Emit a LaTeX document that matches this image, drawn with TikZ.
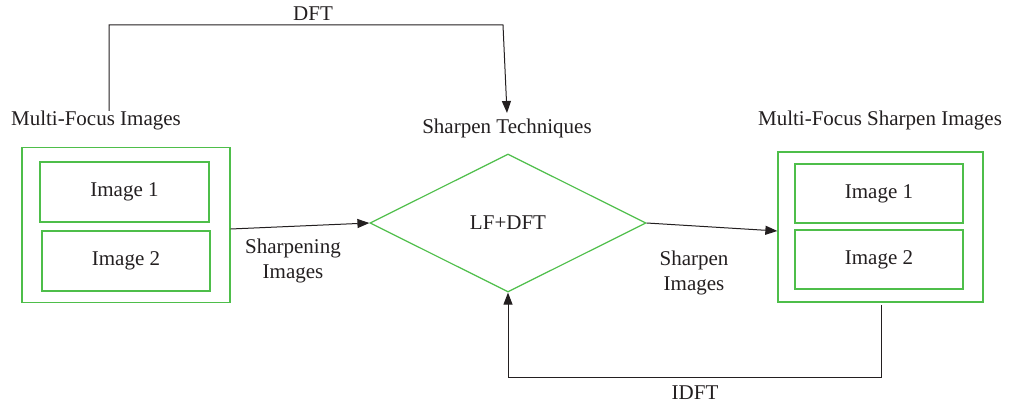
\documentclass[tikz,border=0pt]{standalone}
\usepackage{fontspec}
\setmainfont{Liberation Serif}
\usetikzlibrary{arrows.meta,shapes.geometric}
\definecolor{boxgreen}{RGB}{78,190,74}
\definecolor{txt}{RGB}{35,31,32}
\begin{document}
\begin{tikzpicture}[x=1pt,y=-1pt,
  every node/.style={text=txt,font=\fontsize{21}{25}\selectfont},
  outerbox/.style={draw=boxgreen,line width=1.3pt,inner sep=0pt},
  innerbox/.style={draw=boxgreen,line width=1.2pt,inner sep=0pt},
  decide/.style={draw=boxgreen,line width=1.2pt,diamond,inner sep=0pt,aspect=2},
  conn/.style={draw=txt,line width=1pt},
  arr/.style={conn,-{Triangle[length=12pt,width=9pt]}},
  lbl/.style={align=center,inner sep=0pt}]
\useasboundingbox (0,0) rectangle (1009,409);
% left group
\node[outerbox,minimum width=208pt,minimum height=155pt] (lo) at (126,225) {};
\node[innerbox,minimum width=169pt,minimum height=60pt] (li1) at (124.5,192) {Image 1};
\node[innerbox,minimum width=168pt,minimum height=60pt] (li2) at (126,261) {Image 2};
\node[lbl] (ltitle) at (96,120) {Multi-Focus Images};
% diamond
\node[decide,minimum width=276pt,minimum height=138pt] (dia) at (508,223) {LF+DFT};
\node[lbl] (dtitle) at (507,128) {Sharpen Techniques};
% right group
\node[outerbox,minimum width=205pt,minimum height=150pt] (ro) at (880.5,227) {};
\node[innerbox,minimum width=168pt,minimum height=59pt] (ri1) at (879,193.5) {Image 1};
\node[innerbox,minimum width=168pt,minimum height=59pt] (ri2) at (879,259.5) {Image 2};
\node[lbl] (rtitle) at (880,120) {Multi-Focus Sharpen Images};
% labels
\node[lbl] (l1) at (293,261) {Sharpening\\[0pt]Images};
\node[lbl] (l2) at (694,273) {Sharpen\\[0pt]Images};
\node[lbl] (l3) at (313,14) {DFT};
\node[lbl] (l4) at (695,393) {IDFT};
% coordinates
\coordinate (a0) at (109,111);
\coordinate (a1) at (109,25);
\coordinate (a2) at (503,25);
\coordinate (a3) at (507,113);
\coordinate (b0) at (881,305);
\coordinate (b1) at (881,377);
\coordinate (b2) at (508,377);
% connectors
\draw[arr] (lo.east |- 0,229) -- (dia.west);
\draw[arr] (dia.east) -- (ro.west |- 0,231);
\draw[arr] (a0) -- (a1) -- (a2) -- (a3);
\draw[arr] (b0) -- (b1) -- (b2) -- (dia.south);
\end{tikzpicture}
\end{document}
